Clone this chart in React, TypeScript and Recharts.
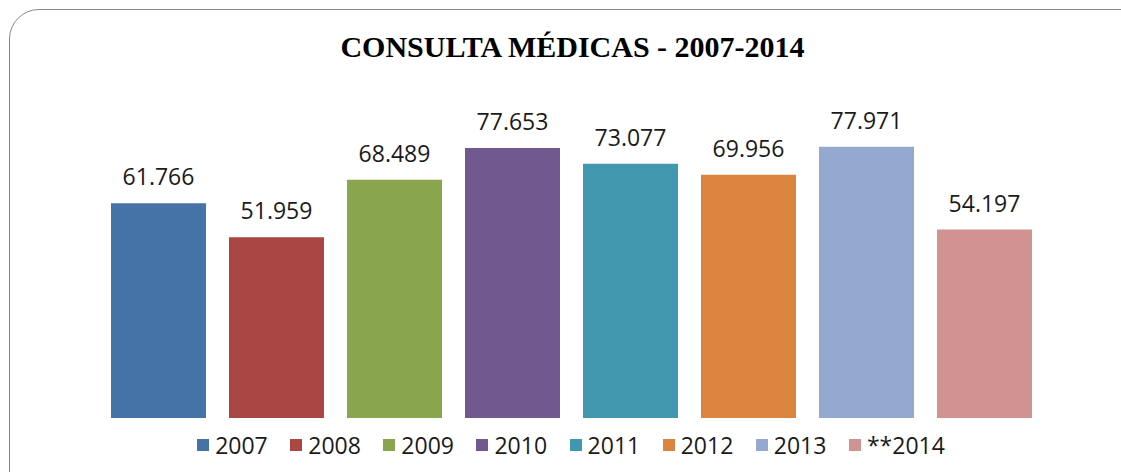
import React from "react";
import { BarChart, Bar, XAxis, YAxis, Legend, LabelList } from "recharts";

const seriesNames = ["2007", "2008", "2009", "2010", "2011", "2012", "2013", "**2014"];
const seriesValues = [61766, 51959, 68489, 77653, 73077, 69956, 77971, 54197];
const seriesColors = ["#4572A7", "#AA4643", "#89A54E", "#71588F", "#4198AF", "#DB843D", "#93A9CF", "#D19392"];
const title = "CONSULTA MÉDICAS - 2007-2014";

const row: Record<string, any> = { name: "Consultas" };
seriesNames.forEach((n, i) => {
  row["s" + i] = seriesValues[i];
});
const data = [row];

const fmt = (v: any) => String(v).replace(/\B(?=(\d{3})+(?!\d))/g, ".");

const FONT = "'Open Sans', sans-serif";

const renderLegend = (props: any) => {
  const payload = [...(props.payload || [])].sort(
    (a: any, b: any) => seriesNames.indexOf(a.value) - seriesNames.indexOf(b.value)
  );
  return (
    <div
      style={{
        height: 42,
        paddingTop: 12,
        boxSizing: "border-box",
        display: "flex",
        alignItems: "center",
        justifyContent: "center",
        fontFamily: FONT,
        fontSize: 23,
        color: "#1a1a1a",
      }}
    >
      {payload.map((p: any, i: number) => (
        <div
          key={i}
          style={{
            display: "flex",
            alignItems: "center",
            marginRight: i < payload.length - 1 ? 22.5 : 0,
          }}
        >
          <div style={{ width: 12, height: 12, background: p.color, marginRight: 6 }} />
          <span style={{ lineHeight: "30px" }}>{p.value}</span>
        </div>
      ))}
    </div>
  );
};

export default function App() {
  return (
    <div style={{ position: "fixed", left: 0, top: 0, width: 1121, height: 472, overflow: "hidden", background: "#fff" }}>
      <div
        style={{
          position: "absolute",
          left: 0,
          top: 32,
          width: 1145,
          textAlign: "center",
          fontFamily: "'Liberation Serif', 'Times New Roman', serif",
          fontWeight: "bold",
          fontSize: 30,
          lineHeight: "30px",
          color: "#000",
        }}
      >
        {title}
      </div>
      <div style={{ position: "absolute", left: 0, top: 0 }}>
        <BarChart
          width={1121}
          height={472}
          data={data}
          margin={{ top: 105, right: 19, bottom: 12, left: 40 }}
          barSize={95}
          barGap={23}
        >
          <XAxis dataKey="name" hide />
          <YAxis hide domain={[0, 90000]} />
          <Legend verticalAlign="bottom" align="center" content={renderLegend} />
          {seriesNames.map((n, i) => (
            <Bar key={n} dataKey={"s" + i} name={n} fill={seriesColors[i]} isAnimationActive={false}>
              <LabelList
                dataKey={"s" + i}
                position="top"
                offset={18}
                formatter={fmt}
                style={{ fontFamily: FONT, fontSize: 23, fill: "#1a1a1a" }}
              />
            </Bar>
          ))}
        </BarChart>
      </div>
      <div
        style={{
          position: "absolute",
          left: 9,
          top: 9,
          width: 1150,
          height: 500,
          border: "1.5px solid #878787",
          borderRadius: 30,
          pointerEvents: "none",
        }}
      />
    </div>
  );
}
